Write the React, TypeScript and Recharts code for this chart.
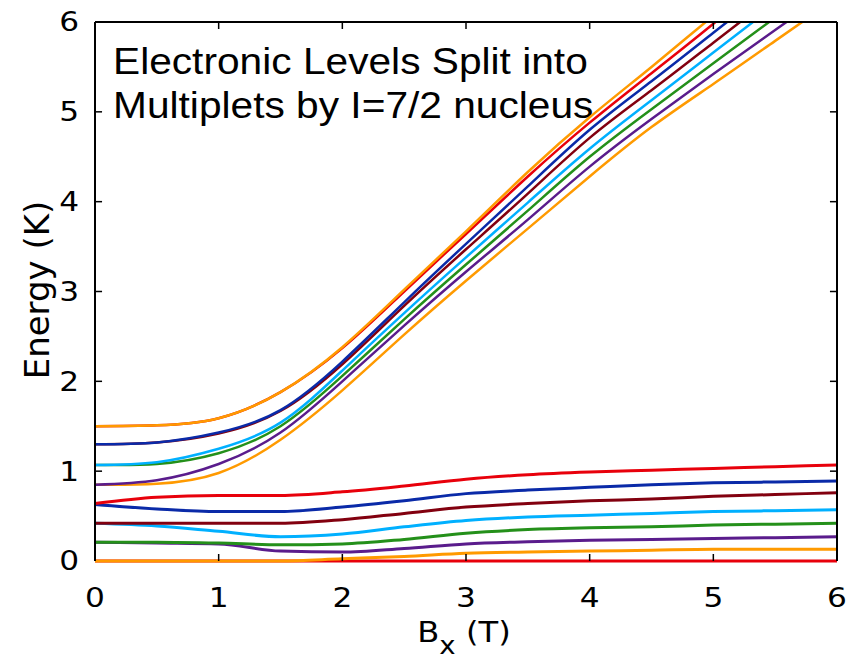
import { LineChart, Line, XAxis, YAxis, ReferenceLine } from "recharts";

// field values (T)
const B_FIELD = [0, 0.5, 1, 1.5, 2, 2.5, 3, 3.5, 4, 4.5, 5, 5.5, 6];

// upper electronic level, 8 nuclear sublevels (K)
const UP_ORANGE = [1.5, 1.51, 1.59, 1.88, 2.38, 3.02, 3.67, 4.33, 4.94, 5.5, 6.07, 6.63, 7.2];
const UP_RED = [1.5, 1.51, 1.59, 1.88, 2.37, 3.0, 3.64, 4.28, 4.88, 5.43, 5.98, 6.55, 7.1];
const UP_BLUE = [1.3, 1.32, 1.43, 1.68, 2.22, 2.88, 3.53, 4.17, 4.8, 5.34, 5.88, 6.42, 6.96];
const UP_DARKRED = [1.3, 1.32, 1.42, 1.67, 2.19, 2.84, 3.47, 4.09, 4.71, 5.24, 5.77, 6.3, 6.83];
const UP_CYAN = [1.07, 1.1, 1.25, 1.54, 2.12, 2.76, 3.38, 3.99, 4.59, 5.13, 5.66, 6.19, 6.72];
const UP_GREEN = [1.07, 1.08, 1.2, 1.5, 2.06, 2.69, 3.3, 3.9, 4.5, 5.03, 5.54, 6.05, 6.56];
const UP_PURPLE = [0.85, 0.9, 1.08, 1.43, 2.0, 2.62, 3.22, 3.8, 4.39, 4.92, 5.42, 5.91, 6.4];
const UP_ORANGE2 = [0.85, 0.86, 0.98, 1.35, 1.9, 2.52, 3.12, 3.7, 4.28, 4.83, 5.31, 5.79, 6.27];

// lower electronic level
const LO_RED = [0.64, 0.71, 0.73, 0.73, 0.77, 0.835, 0.91, 0.96, 0.99, 1.01, 1.03, 1.05, 1.07];
const LO_BLUE = [0.63, 0.58, 0.55, 0.55, 0.6, 0.67, 0.75, 0.79, 0.82, 0.85, 0.87, 0.88, 0.89];
const LO_DARKRED = [0.42, 0.42, 0.42, 0.42, 0.46, 0.53, 0.6, 0.64, 0.67, 0.69, 0.72, 0.74, 0.76];
const LO_CYAN = [0.42, 0.39, 0.33, 0.27, 0.3, 0.38, 0.45, 0.49, 0.51, 0.53, 0.55, 0.56, 0.57];
const LO_GREEN = [0.21, 0.21, 0.2, 0.18, 0.19, 0.24, 0.31, 0.35, 0.37, 0.38, 0.4, 0.41, 0.42];
const LO_PURPLE = [0.21, 0.2, 0.19, 0.11, 0.1, 0.14, 0.19, 0.215, 0.23, 0.24, 0.25, 0.26, 0.27];
const LO_ORANGE = [0, 0, 0, 0, 0.025, 0.05, 0.085, 0.1, 0.11, 0.12, 0.13, 0.13, 0.13];
const LO_RED2 = [0, 0, 0, 0, 0, 0, 0, 0, 0, 0, 0, 0, 0];

const TICKS = [0, 1, 2, 3, 4, 5, 6];
const INNER_TICKS = [1, 2, 3, 4, 5];

const ORANGE = "#ff9a00";
const RED = "#e8000b";
const BLUE = "#0a2aa8";
const DARKRED = "#82000f";
const CYAN = "#00b0ff";
const GREEN = "#24901a";
const PURPLE = "#5a1c8c";

// draw order: first drawn sits underneath
const UPPER = [
  { key: "upRed", values: UP_RED, color: RED },
  { key: "upOrange", values: UP_ORANGE, color: ORANGE },
  { key: "upDarkred", values: UP_DARKRED, color: DARKRED },
  { key: "upBlue", values: UP_BLUE, color: BLUE },
  { key: "upGreen", values: UP_GREEN, color: GREEN },
  { key: "upCyan", values: UP_CYAN, color: CYAN },
  { key: "upOrange2", values: UP_ORANGE2, color: ORANGE },
  { key: "upPurple", values: UP_PURPLE, color: PURPLE },
];
const LOWER = [
  { key: "loBlue", values: LO_BLUE, color: BLUE },
  { key: "loRed", values: LO_RED, color: RED },
  { key: "loCyan", values: LO_CYAN, color: CYAN },
  { key: "loDarkred", values: LO_DARKRED, color: DARKRED },
  { key: "loPurple", values: LO_PURPLE, color: PURPLE },
  { key: "loGreen", values: LO_GREEN, color: GREEN },
  { key: "loRed2", values: LO_RED2, color: RED },
  { key: "loOrange", values: LO_ORANGE, color: ORANGE },
];

const data = B_FIELD.map((b, i) => {
  const row: Record<string, number> = { b };
  [...UPPER, ...LOWER].forEach((s) => (row[s.key] = s.values[i]));
  return row;
});

const FONT = "DejaVu Sans";
const AXIS_LINE = { stroke: "#000", strokeWidth: 2 };
// inward tick length in data units (about 7px each way)
const TICK_DY = 0.078;
const TICK_DX = 0.057;

function XTick({ x, y, payload }: any) {
  return (
    <text transform={`translate(${x},${y}) scale(1.2,1)`} textAnchor="middle" dy="0.71em"
      fontFamily={FONT} fontSize={26} fill="#000">
      {payload.value}
    </text>
  );
}

function YTick({ x, y, payload }: any) {
  return (
    <text transform={`translate(${x},${y}) scale(1.2,1)`} textAnchor="end" dy="0.36em"
      fontFamily={FONT} fontSize={26} fill="#000">
      {payload.value}
    </text>
  );
}

export default function App() {
  return (
    <LineChart width={848} height={655} data={data} margin={{ top: 13, right: 18, left: 0, bottom: 0 }}>
      <XAxis dataKey="b" type="number" domain={[0, 6]} ticks={TICKS}
        height={102} tickLine={false} tickMargin={22} tick={<XTick />} axisLine={false} />
      <XAxis xAxisId="top" orientation="top" type="number" domain={[0, 6]} ticks={TICKS}
        height={1} tickLine={false} tick={false} axisLine={AXIS_LINE} />
      <YAxis type="number" domain={[0, 6]} ticks={TICKS} allowDataOverflow
        width={87} tickLine={false} tickMargin={10} tick={<YTick />} axisLine={AXIS_LINE} />
      <YAxis yAxisId="right" orientation="right" type="number" domain={[0, 6]} ticks={TICKS}
        width={1} tickLine={false} tick={false} axisLine={AXIS_LINE} />
      {UPPER.map((s) => (
        <Line key={s.key} dataKey={s.key} type="natural" stroke={s.color} strokeWidth={2.5}
          dot={false} activeDot={false} isAnimationActive={false} />
      ))}
      {LOWER.map((s) => (
        <Line key={s.key} dataKey={s.key} yAxisId="right" type="monotone" stroke={s.color} strokeWidth={3}
          dot={false} activeDot={false} isAnimationActive={false} />
      ))}
      {INNER_TICKS.map((t) => (
        <ReferenceLine key={`b${t}`} segment={[{ x: t, y: 0 }, { x: t, y: TICK_DY }]} stroke="#000" strokeWidth={1.5} />
      ))}
      {INNER_TICKS.map((t) => (
        <ReferenceLine key={`t${t}`} segment={[{ x: t, y: 6 - TICK_DY }, { x: t, y: 6 }]} stroke="#000" strokeWidth={1.5} />
      ))}
      {INNER_TICKS.map((t) => (
        <ReferenceLine key={`l${t}`} segment={[{ x: 0, y: t }, { x: TICK_DX, y: t }]} stroke="#000" strokeWidth={1.5} />
      ))}
      {INNER_TICKS.map((t) => (
        <ReferenceLine key={`r${t}`} segment={[{ x: 6 - TICK_DX, y: t }, { x: 6, y: t }]} stroke="#000" strokeWidth={1.5} />
      ))}
      <text transform="translate(105,66) scale(1.13,1)" fontFamily="Liberation Sans" fontSize={36} fill="#000">
        Electronic Levels Split into
      </text>
      <text transform="translate(105,110) scale(1.13,1)" fontFamily="Liberation Sans" fontSize={36} fill="#000">
        Multiplets by I=7/2 nucleus
      </text>
      <text transform="translate(41,282) rotate(-90)" textAnchor="middle" fontFamily={FONT} fontSize={34} fill="#000">
        Energy (K)
      </text>
      <text transform="translate(456,634) scale(1.15,1)" textAnchor="middle" fontFamily={FONT} fontSize={28} fill="#000">
        <tspan>B</tspan>
        <tspan dy={12} fontSize={24}>x</tspan>
        <tspan dy={-12}> (T)</tspan>
      </text>
    </LineChart>
  );
}
